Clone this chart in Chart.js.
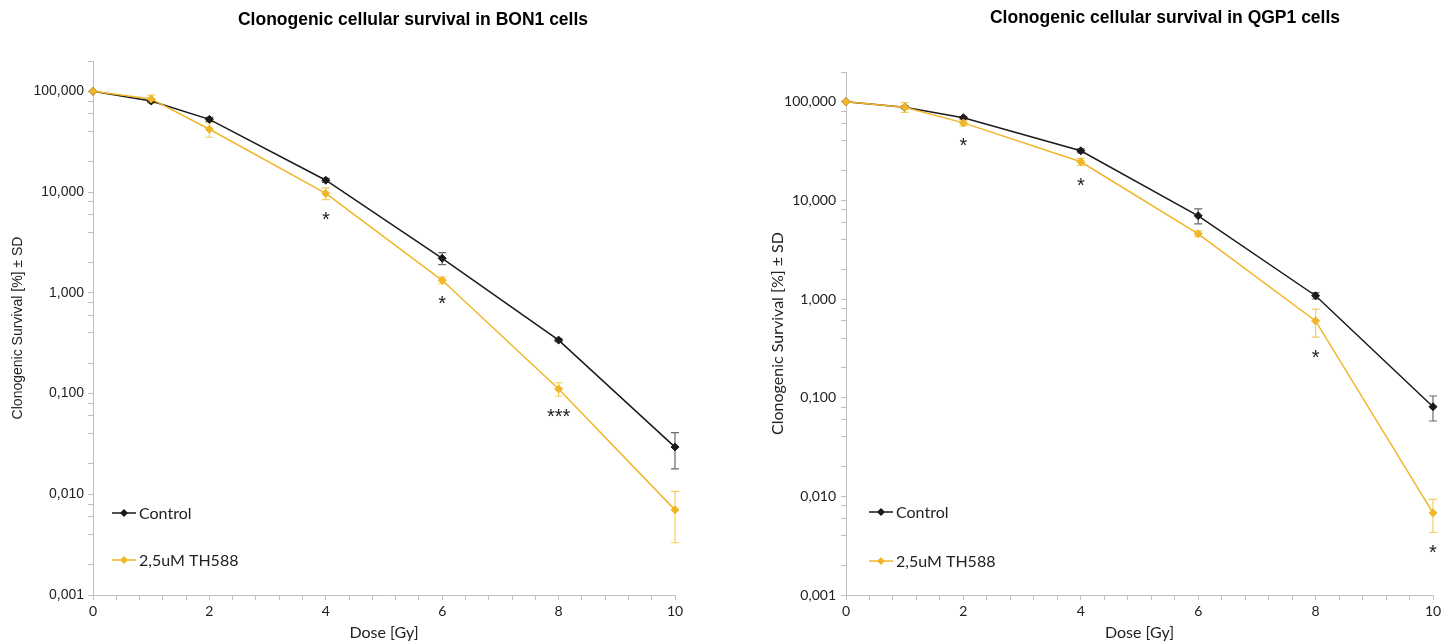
<!DOCTYPE html>
<html>
<head>
<meta charset="utf-8">
<script src="https://cdn.jsdelivr.net/npm/chart.js@4/dist/chart.umd.min.js"></script>
<style>
html, body { margin: 0; padding: 0; background: #fff; }
.box { position: absolute; top: 0; height: 643px; }
#box1 { left: 0; width: 727px; }
#box2 { left: 727px; width: 728px; }
</style>
</head>
<body>
<div class="box" id="box1"><canvas id="chart1"></canvas></div>
<div class="box" id="box2"><canvas id="chart2"></canvas></div>
<script>
// dose points [Gy]
const doses = [0, 1, 2, 4, 6, 8, 10];
const seriesNames = ['Control', '2,5uM TH588'];

// BON1 cells
const bonControl = [100, 80, 52.7, 13.1, 2.2, 0.339, 0.0294];
const bonControlSD = [0, 3, 2.5, 0.6, 0.3, 0.012, 0.0115];
const bonTH588 = [100, 84, 42, 9.7, 1.33, 0.111, 0.0070];
const bonTH588SD = [0, 7.5, 7, 1.3, 0.1, 0.017, 0.0037];
const bonStars = ['', '', '', '*', '*', '***', ''];

// QGP1 cells
const qgpControl = [100, 88, 68.8, 31.8, 6.98, 1.08, 0.081];
const qgpControlSD = [0, 3, 2, 1.5, 1.2, 0.08, 0.023];
const qgpTH588 = [100, 88, 61, 24.6, 4.58, 0.60, 0.0068];
const qgpTH588SD = [0, 10, 4, 2, 0.3, 0.19, 0.0025];
const qgpStars = ['', '', '*', '*', '', '*', '*'];

// axis ticks
const yDecades = [0.001, 0.01, 0.1, 1, 10, 100];
const yMinorSteps = [2, 4, 6, 8];
const yMax = 200;
const xMax = 10;
const xTickStep = 0.4;
const xLabelStep = 2;

const black = '#1a1a1a';
const gold = '#F0B628';
const axisGrey = '#BFBFBF';

function yTickValues() {
  const vals = [];
  yDecades.forEach(d => {
    vals.push(d);
    yMinorSteps.forEach(m => vals.push(d * m));
  });
  return vals.filter(v => v <= yMax * 1.0001);
}
function xTickValues() {
  const vals = [];
  for (let i = 0; i * xTickStep <= xMax + 1e-9; i++) vals.push(+(i * xTickStep).toFixed(2));
  return vals;
}
function isDecade(v) {
  const l = Math.log10(v);
  return Math.abs(l - Math.round(l)) < 1e-9;
}

const errorBars = {
  id: 'errorBars',
  beforeDatasetsDraw(chart, args, opts) {
    const ctx = chart.ctx, xs = chart.scales.x, ys = chart.scales.y;
    opts.sd.forEach((sds, i) => {
      const vals = chart.data.datasets[i].data;
      ctx.save();
      ctx.strokeStyle = opts.colors[i];
      ctx.lineWidth = 1.2;
      sds.forEach((sd, j) => {
        if (!sd) return;
        const px = xs.getPixelForValue(vals[j].x);
        const top = ys.getPixelForValue(vals[j].y + sd);
        const bot = ys.getPixelForValue(vals[j].y - sd);
        ctx.beginPath();
        ctx.moveTo(px, top); ctx.lineTo(px, bot);
        ctx.moveTo(px - 4, top); ctx.lineTo(px + 4, top);
        ctx.moveTo(px - 4, bot); ctx.lineTo(px + 4, bot);
        ctx.stroke();
      });
      ctx.restore();
    });
  }
};

const stars = {
  id: 'stars',
  afterDatasetsDraw(chart, args, opts) {
    const ctx = chart.ctx, xs = chart.scales.x, ys = chart.scales.y;
    const vals = chart.data.datasets[1].data;
    ctx.save();
    ctx.fillStyle = '#222';
    ctx.font = '20px "Liberation Sans"';
    ctx.textAlign = 'center';
    ctx.textBaseline = 'middle';
    opts.labels.forEach((s, j) => {
      if (!s) return;
      const px = xs.getPixelForValue(vals[j].x);
      const bot = ys.getPixelForValue(vals[j].y - opts.sd[j]);
      ctx.fillText(s, px, bot + 21);
    });
    ctx.restore();
  }
};

const topTitle = {
  id: 'topTitle',
  afterDraw(chart, args, opts) {
    const ctx = chart.ctx;
    ctx.save();
    ctx.fillStyle = '#000';
    ctx.font = 'bold 17.5px "Liberation Sans"';
    ctx.textAlign = 'center';
    ctx.textBaseline = 'middle';
    ctx.fillText(opts.text, chart.width * opts.x, opts.y);
    ctx.restore();
  }
};

const insideLegend = {
  id: 'insideLegend',
  afterDraw(chart, args, opts) {
    const ctx = chart.ctx, area = chart.chartArea;
    ctx.save();
    ctx.font = '16px Lato';
    ctx.textBaseline = 'middle';
    chart.data.datasets.forEach((ds, i) => {
      const x0 = area.left + opts.x;
      const y = area.bottom - opts.rows[i];
      ctx.strokeStyle = ds.borderColor;
      ctx.lineWidth = 1.5;
      ctx.beginPath();
      ctx.moveTo(x0, y); ctx.lineTo(x0 + 24, y);
      ctx.stroke();
      ctx.fillStyle = ds.borderColor;
      ctx.beginPath();
      ctx.moveTo(x0 + 12, y - 4); ctx.lineTo(x0 + 16, y);
      ctx.lineTo(x0 + 12, y + 4); ctx.lineTo(x0 + 8, y);
      ctx.closePath();
      ctx.fill();
      ctx.fillStyle = '#222';
      ctx.fillText(ds.label, x0 + 27, y + 1);
    });
    ctx.restore();
  }
};

function makeChart(id, s) {
  const points = arr => arr.map((v, i) => ({ x: doses[i], y: v }));
  return new Chart(document.getElementById(id), {
    type: 'line',
    data: {
      datasets: [
        { label: seriesNames[0], data: points(s.control), borderColor: black, backgroundColor: black, clip: 8, order: 1 },
        { label: seriesNames[1], data: points(s.th588), borderColor: gold, backgroundColor: gold, clip: 8, order: 0 }
      ]
    },
    options: {
      responsive: true,
      maintainAspectRatio: false,
      animation: false,
      layout: { padding: { top: s.top, right: s.right, left: 0, bottom: 0 } },
      elements: {
        line: { borderWidth: 1.5, tension: 0 },
        point: { pointStyle: 'rectRot', radius: 4, borderWidth: 1 }
      },
      scales: {
        x: {
          type: 'linear', min: 0, max: xMax,
          afterBuildTicks: sc => { sc.ticks = xTickValues().map(v => ({ value: v })); },
          afterFit: sc => { sc.height = 48; },
          grid: { display: true, drawOnChartArea: false, drawTicks: true, tickLength: 5, color: axisGrey },
          border: { display: true, color: axisGrey, width: 1 },
          ticks: {
            autoSkip: false, maxRotation: 0, padding: 3, color: '#222',
            font: { family: 'Lato', size: 14 },
            callback: v => (Math.abs(v / xLabelStep - Math.round(v / xLabelStep)) < 1e-9 ? String(Math.round(v)) : '')
          },
          title: { display: true, text: 'Dose [Gy]', color: '#222', font: { family: 'Lato', size: 16 }, padding: { top: 0, bottom: 1 } }
        },
        y: {
          type: 'logarithmic', min: yDecades[0], max: yMax,
          afterBuildTicks: sc => { sc.ticks = yTickValues().map(v => ({ value: v })); },
          afterFit: sc => { sc.width = s.yWidth; },
          grid: { display: true, drawOnChartArea: false, drawTicks: true, tickLength: 5, color: axisGrey },
          border: { display: true, color: axisGrey, width: 1 },
          ticks: {
            autoSkip: false, padding: s.yPad, color: '#222',
            font: { family: s.yFont, size: 14 },
            callback: v => (isDecade(v) && v <= 100 ? v.toFixed(3).replace('.', ',') : '')
          },
          title: { display: true, text: 'Clonogenic Survival [%] ± SD', color: '#222', font: { family: s.yFont, size: s.yTitleSize }, padding: { top: s.yTitlePad, bottom: 0 } }
        }
      },
      plugins: {
        legend: { display: false },
        tooltip: { enabled: false },
        errorBars: { sd: [s.controlSD, s.th588SD], colors: ['#6b6b6b', '#F5CD5E'] },
        stars: { labels: s.stars, sd: s.th588SD },
        topTitle: { text: s.title, x: s.titleX, y: s.titleY },
        insideLegend: { x: s.legendX, rows: s.legendRows }
      }
    },
    plugins: [errorBars, stars, topTitle, insideLegend]
  });
}

makeChart('chart1', {
  title: 'Clonogenic cellular survival in BON1 cells', titleX: 413 / 727, titleY: 20,
  control: bonControl, controlSD: bonControlSD, th588: bonTH588, th588SD: bonTH588SD, stars: bonStars,
  top: 61, right: 52, yWidth: 93, yPad: 4, yFont: 'Liberation Sans', yTitleSize: 14, yTitlePad: 10,
  legendX: 19, legendRows: [82, 35]
});
makeChart('chart2', {
  title: 'Clonogenic cellular survival in QGP1 cells', titleX: 438 / 728, titleY: 18,
  control: qgpControl, controlSD: qgpControlSD, th588: qgpTH588, th588SD: qgpTH588SD, stars: qgpStars,
  top: 72, right: 22, yWidth: 119, yPad: 5, yFont: 'Lato', yTitleSize: 16, yTitlePad: 41,
  legendX: 23, legendRows: [83, 34]
});
</script>
</body>
</html>
